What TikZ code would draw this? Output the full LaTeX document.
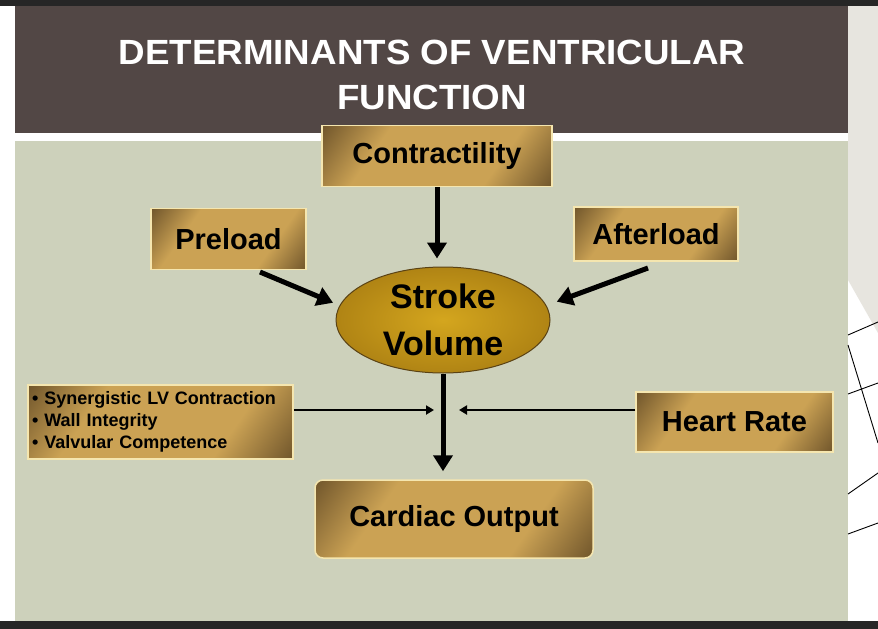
\documentclass[tikz,border=0pt]{standalone}
\usepackage{fontspec}
\setmainfont{Liberation Sans}
\usetikzlibrary{shapes.geometric,arrows.meta}
\definecolor{topbar}{RGB}{38,38,38}
\definecolor{titlebg}{RGB}{82,71,69}
\definecolor{sage}{RGB}{205,209,187}
\definecolor{sidegray}{RGB}{231,229,223}
\definecolor{gdark}{RGB}{96,72,36}
\definecolor{gmid}{RGB}{203,162,84}
\definecolor{cream}{RGB}{245,230,175}
\definecolor{egold}{RGB}{212,166,30}
\definecolor{eedge}{RGB}{176,132,20}
\definecolor{erim}{RGB}{90,66,20}
\pgfdeclarehorizontalshading{goldsh}{100bp}{color(0bp)=(gdark); color(12bp)=(gdark); color(33bp)=(gmid); color(67bp)=(gmid); color(88bp)=(gdark); color(100bp)=(gdark)}
\begin{document}
\begin{tikzpicture}[x=1pt,y=-1pt,
  gbox/.style={draw=cream, line width=1.5pt, shading=goldsh, shading angle=-35,
    inner sep=0pt, text=black, font=\bfseries\fontsize{29}{30}\selectfont},
  bigarrow/.style={line width=5pt, -{Triangle[length=16pt,width=19pt]}},
  thinarrow/.style={line width=2.7pt, -{Triangle[length=8pt,width=9pt]}},
  sideline/.style={black, line width=0.9pt},
  titletext/.style={text=white, inner sep=0pt, font=\bfseries\fontsize{35}{40}\selectfont}]
\useasboundingbox (0,0) rectangle (878,629);
% background
\fill[white] (0,0) rectangle (878,629);
\fill[sidegray] (848,6) -- (878,6) -- (878,333) -- (848,280) -- cycle;
\fill[topbar] (0,0) rectangle (878,6);
\fill[topbar] (0,621) rectangle (878,629);
\fill[titlebg] (15,6) rectangle (848,133);
\fill[sage] (15,141) rectangle (848,621);
% side lines
\draw[sideline] (848,335) -- (878,322);
\draw[sideline] (848,345) -- (878,443);
\draw[sideline] (848,394) -- (878,383);
\draw[sideline] (848,494) -- (878,473);
\draw[sideline] (848,534) -- (878,523);
% title
\node[titletext] (t1) at (432,52.5) {\scalebox{1.05}[1]{DETERMINANTS OF VENTRICULAR}};
\node[titletext] (t2) at (432,97) {\scalebox{1.05}[1]{FUNCTION}};
% boxes
\node[gbox, minimum width=230pt, minimum height=61pt] (ct) at (437,156) {Contractility};
\node[gbox, minimum width=155pt, minimum height=61pt] (pre) at (228.5,239) {Preload};
\node[gbox, minimum width=164pt, minimum height=54pt] (aft) at (656,234) {Afterload};
\node[gbox, minimum width=197pt, minimum height=60pt] (hr) at (734.5,422) {Heart Rate};
\node[gbox, rounded corners=8pt, minimum width=278pt, minimum height=78pt] (co) at (454,519) {Cardiac Output};
\node[gbox, minimum width=265pt, minimum height=74pt, text width=257pt, align=left,
  font=\bfseries\fontsize{18}{22}\selectfont] (lb) at (160.5,422)
  {• Synergistic LV Contraction\\• Wall Integrity\\• Valvular Competence};
% ellipse
\node[ellipse, draw=erim, line width=1pt, inner color=egold, outer color=eedge,
  minimum width=214pt, minimum height=106pt, inner sep=0pt, align=center,
  font=\bfseries\fontsize{34}{47}\selectfont] (sv) at (443,320) {Stroke\\Volume};
% connectors
\coordinate (preS) at (260,272);
\coordinate (aftS) at (648,268);
\coordinate (lbE) at (lb.east |- 0,410);
\coordinate (hrW) at (hr.west |- 0,410);
\draw[bigarrow, shorten >=8pt] (ct.south) -- (ct.south |- sv.north);
\draw[bigarrow, shorten >=7pt] (preS) -- (sv.172);
\draw[bigarrow, shorten >=11pt] (aftS) -- (sv.8);
\draw[bigarrow, shorten >=8pt] (sv.south) -- (sv.south |- co.north);
\draw[thinarrow, shorten >=9pt] (lbE) -- (sv.south |- lbE);
\draw[thinarrow, shorten >=16pt] (hrW) -- (sv.south |- hrW);
\end{tikzpicture}
\end{document}
